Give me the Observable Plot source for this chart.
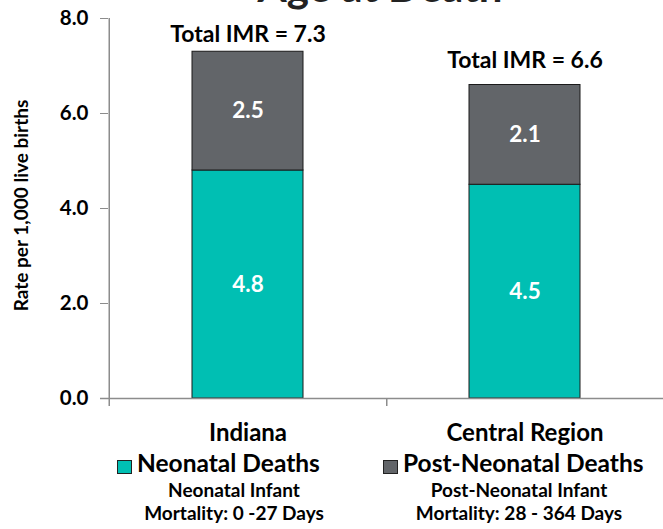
<!DOCTYPE html>
<html>
<head>
<meta charset="utf-8">
<script src="https://cdn.jsdelivr.net/npm/d3@7"></script>
<script src="https://cdn.jsdelivr.net/npm/@observablehq/plot@0.6"></script>
<style>
  body { margin: 0; background: #fff; font-family: Lato, "Open Sans", sans-serif; }
  #wrap { position: relative; width: 663px; height: 529px; overflow: hidden; }
  #title { position: absolute; top: -35px; left: 0; width: 663px; text-align: center; padding-left: 97px; box-sizing: border-box;
           font-size: 42px; font-weight: 700; line-height: 42px; color: #222; }
  .leg { position: absolute; font-weight: 700; color: #000; }
  .sw { position: absolute; width: 13px; height: 12px; border: 1px solid #222; }
  .main { font-size: 24.5px; line-height: 24.5px; white-space: nowrap; }
  .sub { font-size: 19px; line-height: 19px; text-align: center; white-space: nowrap; }
</style>
</head>
<body>
<div id="wrap">
  <div id="chart"></div>
  <div id="title">Age at Death</div>
  <div id="legend"></div>
</div>
<script>
const categories = ["Indiana", "Central Region"];
const series = ["Neonatal Deaths", "Post-Neonatal Deaths"];
const neonatal = [4.8, 4.5];
const postNeonatal = [2.5, 2.1];
const totals = [7.3, 6.6];
const yTicks = [0, 2, 4, 6, 8];
const colors = ["#00bfb3", "#626569"];
const legendNotes = [["Neonatal Infant", "Mortality: 0 -27 Days"], ["Post-Neonatal Infant", "Mortality: 28 - 364 Days"]];
const yLabel = "Rate per 1,000 live births";

const rows = [];
categories.forEach((c, i) => {
  rows.push({category: c, series: series[0], value: neonatal[i]});
  rows.push({category: c, series: series[1], value: postNeonatal[i]});
});
const totalRows = categories.map((c, i) => ({category: c, total: totals[i]}));

const W = 663, H = 450, ML = 108, MR = 0, MT = 18, MB = 52;
const step = (W - ML - MR) / categories.length;
const font = "Lato, 'Open Sans', sans-serif";
const axisGray = "#8c8c8c";

const chart = Plot.plot({
  width: W, height: H,
  marginLeft: ML, marginRight: MR, marginTop: MT, marginBottom: MB,
  style: {fontFamily: font, background: "#fff", overflow: "visible"},
  x: {domain: categories, paddingInner: 0.6, paddingOuter: 0.3},
  y: {domain: [0, 8]},
  color: {domain: series, range: colors},
  marks: [
    Plot.barY(rows, Plot.stackY({x: "category", y: "value", fill: "series", stroke: "#1a1a1a", strokeWidth: 1})),
    Plot.ruleY([0], {stroke: axisGray, strokeWidth: 1.5, insetLeft: -8}),
    Plot.ruleX([categories[0]], {y1: 8, y2: 0, dx: -step / 2, stroke: axisGray, strokeWidth: 1.5, insetBottom: -8}),
    Plot.ruleX(categories, {y1: 0, y2: 0, dx: step / 2, stroke: axisGray, strokeWidth: 1.5, insetBottom: -8}),
    Plot.axisY({ticks: yTicks, tickFormat: ".1f", tickSize: 8, tickPadding: 12, stroke: axisGray, fill: "#000",
                fontSize: 20.5, fontWeight: 700, label: null}),
    Plot.axisX({tickSize: 0, tickPadding: 25, fontSize: 24, fontWeight: 700, fill: "#000", label: null}),
    Plot.text([yLabel], {frameAnchor: "left", textAnchor: "middle", rotate: -90, dx: -87, dy: -3, fontSize: 19, fontWeight: 700, fill: "#000"}),
    Plot.text(rows, Plot.stackY({x: "category", y: "value", text: d => d.value.toFixed(1), fill: "#fff", fontSize: 22.5, fontWeight: 700})),
    Plot.text(totalRows.slice(0, 1), {x: "category", y: "total", text: d => `Total IMR = ${d.total.toFixed(1)}`, dy: -17, fontSize: 23, fontWeight: 700, fill: "#000"}),
    Plot.text(totalRows.slice(1), {x: "category", y: "total", text: d => `Total IMR = ${d.total.toFixed(1)}`, dy: -24, fontSize: 23, fontWeight: 700, fill: "#000"})
  ]
});
document.getElementById("chart").appendChild(chart);

// legend (HTML, below the SVG)
const legend = document.getElementById("legend");
const legendPos = [{sw: 117, text: 137, center: 234}, {sw: 383, text: 403, center: 519}];
series.forEach((s, i) => {
  const p = legendPos[i];
  const sw = document.createElement("div");
  sw.className = "sw"; sw.style.left = p.sw + "px"; sw.style.top = "460px"; sw.style.background = colors[i];
  legend.appendChild(sw);
  const t = document.createElement("div");
  t.className = "leg main"; t.textContent = s; t.style.left = p.text + "px"; t.style.top = "451px";
  legend.appendChild(t);
  legendNotes[i].forEach((line, j) => {
    const n = document.createElement("div");
    n.className = "leg sub"; n.textContent = line;
    n.style.left = (p.center - 150) + "px"; n.style.width = "300px"; n.style.top = (480 + j * 23) + "px";
    legend.appendChild(n);
  });
});
</script>
</body>
</html>
